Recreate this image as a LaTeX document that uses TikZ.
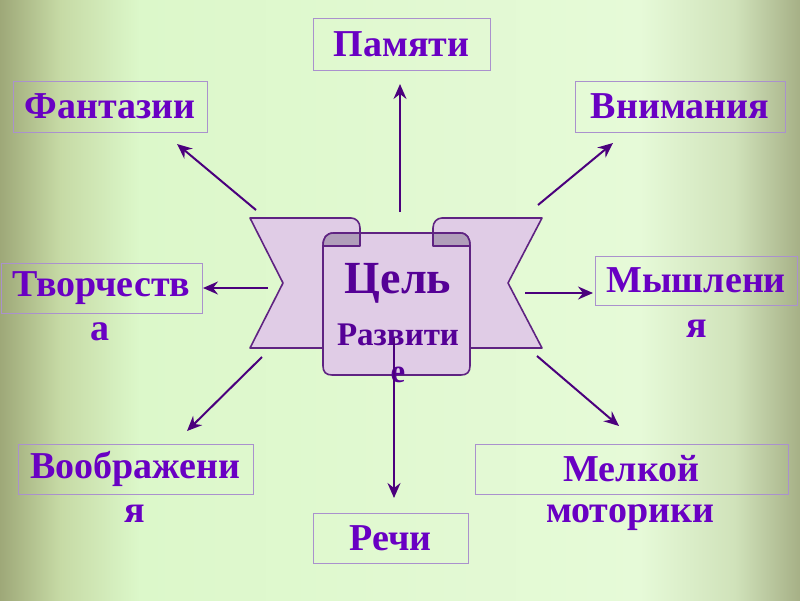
\documentclass[tikz,border=0pt]{standalone}
\usepackage{fontspec}
\setmainfont{Liberation Serif}
\usetikzlibrary{arrows.meta}
\definecolor{txtc}{RGB}{105,0,195}
\definecolor{boxc}{RGB}{170,145,205}
\definecolor{arrc}{RGB}{75,0,125}
\definecolor{ribc}{RGB}{224,204,230}
\definecolor{shdc}{RGB}{176,158,186}
\definecolor{linc}{RGB}{95,35,130}
\definecolor{ctxt}{RGB}{85,0,150}
\definecolor{bga}{RGB}{158,168,120}
\definecolor{bgb}{RGB}{198,218,165}
\definecolor{bgc}{RGB}{220,248,202}
\definecolor{bgd}{RGB}{230,250,216}
\definecolor{bge}{RGB}{208,226,186}
\definecolor{bgf}{RGB}{166,176,134}
\begin{document}
\begin{tikzpicture}[x=1pt,y=-1pt,
  box/.style={draw=boxc, line width=1pt, inner sep=0pt, font=\bfseries\fontsize{38}{42}\selectfont, text=txtc},
  lbl/.style={inner sep=0pt, anchor=base, font=\bfseries\fontsize{38}{42}\selectfont, text=txtc},
  arr/.style={draw=arrc, line width=2pt, -{Stealth[length=15pt,width=13pt,inset=5pt]}},
  rib/.style={fill=ribc, draw=linc, line width=1.6pt, line join=round},
  shd/.style={fill=shdc, draw=linc, line width=1.6pt, line join=round},
]
\useasboundingbox (0,0) rectangle (800,600);
% background
\shade[left color=bga, right color=bgb] (0,0) rectangle (60,600);
\shade[left color=bgb, right color=bgc] (60,0) rectangle (140,600);
\shade[left color=bgc, right color=bgd] (140,0) rectangle (640,600);
\shade[left color=bgd, right color=bge] (640,0) rectangle (735,600);
\shade[left color=bge, right color=bgf] (735,0) rectangle (800,600);

% outer boxes
\node[box, minimum width=177pt, minimum height=52pt] (pam) at (401.5,44) {Памяти};
\node[box, minimum width=194pt, minimum height=51pt] (fant) at (110,106.5) {Фантазии};
\node[box, minimum width=210pt, minimum height=51pt] (vnim) at (680,106.5) {Внимания};
\node[box, minimum width=201pt, minimum height=50pt] (tvor) at (101.5,288) {Творчеств};
\node[lbl] (tvor2) at (100,340) {а};
\node[box, minimum width=202pt, minimum height=49pt] (mysh) at (696,280.5) {Мышлени};
\node[lbl] (mysh2) at (697,337) {я};
\node[box, minimum width=235pt, minimum height=50pt] (voob) at (135.5,469) {Воображени};
\node[lbl] (voob2) at (135,522) {я};
\node[box, minimum width=155pt, minimum height=50pt] (rech) at (390.5,538) {Речи};
\node[box, minimum width=313pt, minimum height=50pt] (melk) at (631.5,469) {Мелкой};
\node[lbl] (melk2) at (630,522) {моторики};

% banner: back ribbons
\draw[rib] (250,218) -- (351,218) .. controls (356,218) and (360,222) .. (360,228)
  -- (360,250) -- (330,250) -- (330,348) -- (250,348) -- (283,283) -- cycle;
\draw[rib] (542,218) -- (442,218) .. controls (437,218) and (433,222) .. (433,228)
  -- (433,250) -- (462,250) -- (462,348) -- (542,348) -- (508,283) -- cycle;
% front panel
\draw[rib] (323,246) .. controls (323,238) and (326,233) .. (334,233) -- (460,233)
  .. controls (467,233) and (470,238) .. (470,246) -- (470,366)
  .. controls (470,372) and (467,375) .. (461,375) -- (332,375)
  .. controls (326,375) and (323,372) .. (323,366) -- cycle;
% inner rolls
\draw[shd] (323,246) .. controls (323,238) and (326,233) .. (334,233) -- (360,233) -- (360,246) -- cycle;
\draw[shd] (470,246) .. controls (470,238) and (467,233) .. (460,233) -- (433,233) -- (433,246) -- cycle;

% centre texts
\node[inner sep=0pt, anchor=base, font=\bfseries\fontsize{46}{50}\selectfont, text=ctxt] (goal) at (398,293) {Цель};
\node[inner sep=0pt, anchor=base, font=\bfseries\fontsize{33}{36}\selectfont, text=ctxt] (razv) at (398,345) {Развити};
\node[inner sep=0pt, anchor=base, font=\bfseries\fontsize{33}{36}\selectfont, text=ctxt] (razv2) at (398,382) {е};

% arrow end points
\coordinate (sU) at (400,212); \coordinate (eU) at (400,84);
\coordinate (sUL) at (256,210); \coordinate (eUL) at (177,144);
\coordinate (sUR) at (538,205); \coordinate (eUR) at (613,143);
\coordinate (sL) at (268,288); \coordinate (eL) at (203,288);
\coordinate (sR) at (525,293); \coordinate (eR) at (593,293);
\coordinate (sDL) at (262,357); \coordinate (eDL) at (187,431);
\coordinate (sDR) at (537,356); \coordinate (eDR) at (619,426);
\coordinate (sD) at (394,338); \coordinate (eD) at (394,498);

\draw[arr] (sU) -- (eU);
\draw[arr] (sUL) -- (eUL);
\draw[arr] (sUR) -- (eUR);
\draw[arr] (sL) -- (eL);
\draw[arr] (sR) -- (eR);
\draw[arr] (sDL) -- (eDL);
\draw[arr] (sDR) -- (eDR);
\draw[arr] (sD) -- (eD);
\end{tikzpicture}
\end{document}
